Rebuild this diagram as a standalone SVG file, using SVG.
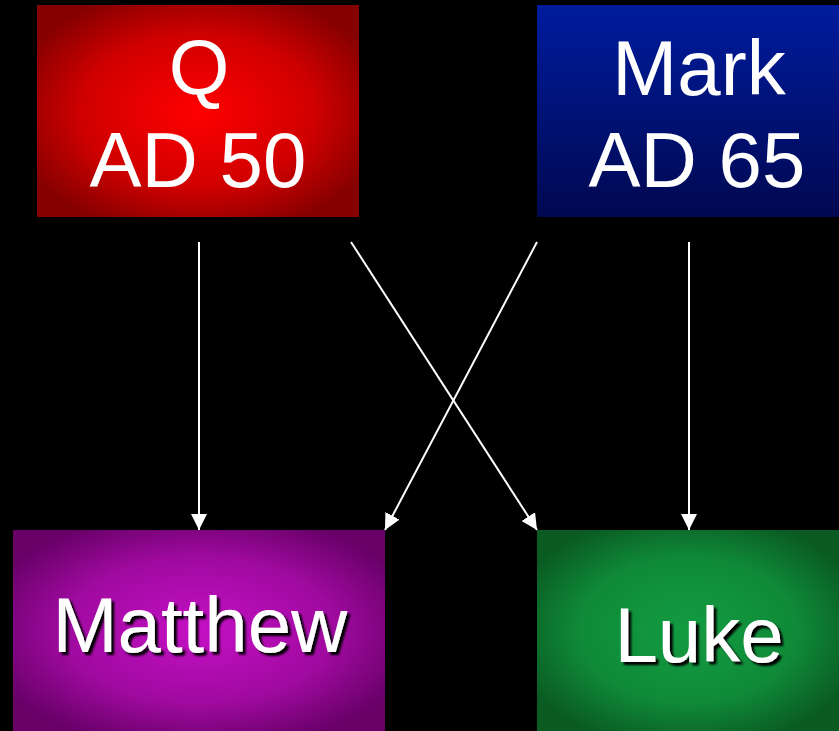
<svg xmlns="http://www.w3.org/2000/svg" width="839" height="731" viewBox="0 0 839 731">
<defs>
<radialGradient id="gRed" cx="0.5" cy="0.5" r="0.6">
<stop offset="0" stop-color="#ff0000"/>
<stop offset="0.6" stop-color="#d00000"/>
<stop offset="1" stop-color="#850000"/>
</radialGradient>
<linearGradient id="gBlue" x1="0" y1="0" x2="0" y2="1">
<stop offset="0" stop-color="#001c9e"/>
<stop offset="1" stop-color="#000850"/>
</linearGradient>
<radialGradient id="gPurple" cx="0.5" cy="0.5" r="0.6">
<stop offset="0" stop-color="#c410c4"/>
<stop offset="0.6" stop-color="#a00aa0"/>
<stop offset="1" stop-color="#680068"/>
</radialGradient>
<radialGradient id="gGreen" cx="0.5" cy="0.5" r="0.6">
<stop offset="0" stop-color="#139c42"/>
<stop offset="0.6" stop-color="#0f8a38"/>
<stop offset="1" stop-color="#0a5a22"/>
</radialGradient>
<marker id="arr" markerWidth="16" markerHeight="16" refX="16" refY="8" orient="auto" markerUnits="userSpaceOnUse">
<path d="M0,0 L16,8 L0,16 Z" fill="#ffffff"/>
</marker>
<filter id="shadow" x="-10%" y="-10%" width="130%" height="130%">
<feDropShadow dx="3" dy="3" stdDeviation="1" flood-color="#000000" flood-opacity="1"/>
</filter>
</defs>
<style>
.lbl { font-family: "Liberation Sans", Arial, sans-serif; font-size: 78px; fill: #ffffff; text-anchor: middle; }
.conn { stroke: #ffffff; stroke-width: 2; fill: none; marker-end: url(#arr); }
</style>
<rect x="0" y="0" width="839" height="731" fill="#000000"/>
<g id="node-q">
<rect x="37" y="5" width="322" height="212" fill="url(#gRed)"/>
<text class="lbl" x="199" y="94">Q</text>
<text class="lbl" x="198" y="187">AD 50</text>
</g>
<g id="node-mark">
<rect x="537" y="5" width="302" height="212" fill="url(#gBlue)"/>
<text class="lbl" x="699" y="95">Mark</text>
<text class="lbl" x="697" y="187">AD 65</text>
</g>
<g id="node-matthew">
<rect x="13" y="530" width="372" height="201" fill="url(#gPurple)"/>
<text class="lbl" x="200" y="652" filter="url(#shadow)">Matthew</text>
</g>
<g id="node-luke">
<rect x="537" y="530" width="302" height="201" fill="url(#gGreen)"/>
<text class="lbl" x="699" y="662" filter="url(#shadow)">Luke</text>
</g>
<g id="connectors">
<line class="conn" x1="199" y1="242" x2="199" y2="530"/>
<line class="conn" x1="351" y1="242" x2="537" y2="530"/>
<line class="conn" x1="537" y1="242" x2="385" y2="530"/>
<line class="conn" x1="689" y1="242" x2="689" y2="530"/>
</g>
</svg>
